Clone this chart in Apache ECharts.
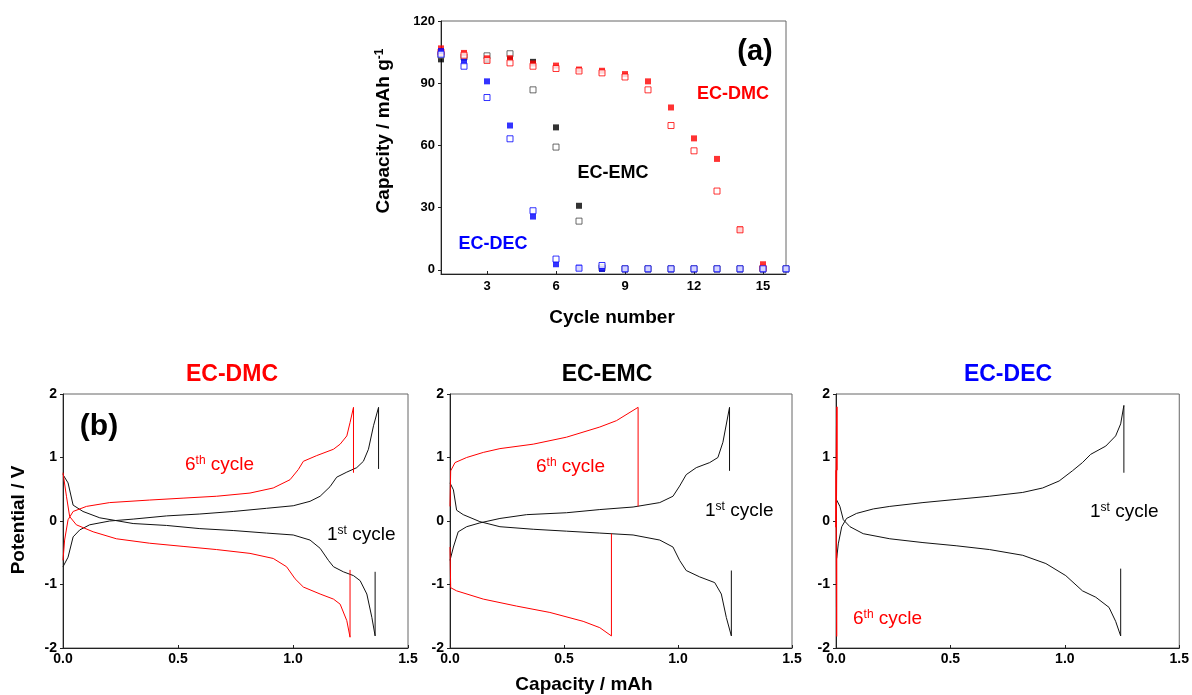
<!DOCTYPE html>
<html>
<head>
<meta charset="utf-8">
<script src="https://cdn.jsdelivr.net/npm/echarts@6/dist/echarts.min.js"></script>
<style>
    html, body { margin: 0; padding: 0; background: #fff; }
    #main { width: 1192px; height: 695px; }
</style>
</head>
<body>
<div id="main"></div>
<script>
    // ---- (a) capacity vs cycle number ----
    var cycles = [1, 2, 3, 4, 5, 6, 7, 8, 9, 10, 11, 12, 13, 14, 15, 16];
    var cycleTicks = [3, 6, 9, 12, 15];
    var capTicks = [0, 30, 60, 90, 120];

    var dmcFilled = [106.8, 104.6, 102, 102, 99.5, 98.5, 96.6, 96, 94.4, 90.9, 78.3, 63.4, 53.5, 19.5, 2.7, null];
    var dmcOpen = [105, 103.5, 101, 99.8, 98.2, 97.1, 95.9, 95, 93, 86.8, 69.6, 57.4, 38, 19.3, 0.8, null];
    var emcFilled = [101.5, 102.5, 101.2, 102.2, 100.3, 68.7, 30.9, 0.5, 0.3, 0.3, 0.3, 0.3, 0.3, 0.3, 0.3, 0.3];
    var emcOpen = [103.5, 102.7, 103.2, 104.2, 86.8, 59.2, 23.5, 1, 0.5, 0.5, 0.5, 0.5, 0.5, 0.5, 0.5, 0.5];
    var decFilled = [105.5, 100.3, 90.9, 69.6, 25.7, 2.7, 1, 0.5, 0.3, 0.3, 0.3, 0.3, 0.3, 0.3, 0.3, 0.3];
    var decOpen = [104, 98.2, 83.1, 63.2, 28.5, 5.2, 0.8, 2.1, 0.5, 0.5, 0.5, 0.5, 0.5, 0.5, 0.5, 0.5];

    // ---- (b) voltage profiles [capacity mAh, potential V] ----
    var capLabels = [0, 0.5, 1.0, 1.5];
    var potLabels = [-2, -1, 0, 1, 2];

    // EC-DMC
    var dmcUp1 = [[0,-0.72],[0.022,-0.57],[0.044,-0.25],[0.073,-0.14],[0.116,-0.06],[0.203,0],[0.305,0.03],[0.45,0.08],[0.595,0.11],[0.74,0.15],[0.885,0.2],[1.001,0.24],[1.074,0.31],[1.118,0.39],[1.161,0.54],[1.19,0.69],[1.234,0.77],[1.277,0.84],[1.306,0.94],[1.328,1.13],[1.35,1.5],[1.372,1.79],[1.372,0.82]];
    var dmcDown1 = [[0,0.73],[0.022,0.6],[0.044,0.25],[0.087,0.15],[0.16,0.05],[0.305,-0.04],[0.45,-0.07],[0.595,-0.12],[0.74,-0.15],[0.885,-0.19],[1.001,-0.22],[1.074,-0.3],[1.118,-0.43],[1.154,-0.62],[1.176,-0.72],[1.219,-0.8],[1.263,-0.86],[1.292,-0.94],[1.321,-1.15],[1.343,-1.52],[1.357,-1.81],[1.357,-0.8]];
    var dmcUp6 = [[0,-0.62],[0.007,-0.3],[0.022,0.02],[0.044,0.15],[0.102,0.23],[0.203,0.29],[0.377,0.33],[0.522,0.36],[0.668,0.39],[0.813,0.44],[0.914,0.52],[0.987,0.65],[1.023,0.81],[1.045,0.94],[1.103,1.03],[1.176,1.13],[1.205,1.21],[1.234,1.34],[1.248,1.55],[1.263,1.79],[1.263,0.76]];
    var dmcDown6 = [[0,0.76],[0.015,0.39],[0.029,0.07],[0.058,-0.06],[0.131,-0.17],[0.232,-0.28],[0.377,-0.35],[0.522,-0.4],[0.668,-0.45],[0.813,-0.51],[0.914,-0.59],[0.972,-0.72],[1.009,-0.91],[1.045,-1.04],[1.118,-1.15],[1.176,-1.23],[1.205,-1.31],[1.234,-1.57],[1.248,-1.83],[1.248,-0.77]];

    // EC-EMC
    var emcUp1 = [[0,-0.62],[0.015,-0.41],[0.036,-0.17],[0.073,-0.09],[0.131,-0.03],[0.219,0.04],[0.336,0.1],[0.511,0.13],[0.657,0.18],[0.803,0.22],[0.92,0.29],[0.978,0.39],[1.007,0.55],[1.036,0.73],[1.08,0.84],[1.139,0.92],[1.175,1.0],[1.197,1.24],[1.226,1.79],[1.226,0.79]];
    var emcDown1 = [[0,0.6],[0.015,0.49],[0.029,0.17],[0.058,0.1],[0.131,-0.01],[0.219,-0.09],[0.365,-0.13],[0.511,-0.16],[0.657,-0.19],[0.803,-0.22],[0.92,-0.3],[0.978,-0.41],[1.007,-0.62],[1.036,-0.78],[1.095,-0.88],[1.161,-0.97],[1.19,-1.15],[1.212,-1.52],[1.234,-1.81],[1.234,-0.78]];
    var emcUp6 = [[0,0.23],[0.003,0.79],[0.022,0.92],[0.073,1.0],[0.146,1.08],[0.219,1.14],[0.365,1.21],[0.511,1.32],[0.657,1.48],[0.73,1.58],[0.825,1.79],[0.825,0.23]];
    var emcDown6 = [[0,-0.41],[0.003,-1.05],[0.029,-1.1],[0.146,-1.23],[0.292,-1.34],[0.438,-1.44],[0.584,-1.58],[0.657,-1.68],[0.708,-1.81],[0.708,-0.2]];

    // EC-DEC
    var decUp1 = [[0.003,-0.59],[0.01,-0.36],[0.025,-0.09],[0.046,0.04],[0.09,0.12],[0.163,0.19],[0.235,0.23],[0.38,0.29],[0.525,0.34],[0.671,0.39],[0.816,0.45],[0.903,0.52],[0.975,0.63],[1.033,0.79],[1.077,0.92],[1.113,1.05],[1.179,1.18],[1.222,1.34],[1.244,1.53],[1.258,1.82],[1.258,0.76]];
    var decDown1 = [[0.003,0.33],[0.017,0.23],[0.032,0.02],[0.061,-0.09],[0.119,-0.2],[0.235,-0.28],[0.38,-0.34],[0.525,-0.39],[0.671,-0.45],[0.816,-0.54],[0.917,-0.67],[1.004,-0.86],[1.077,-1.1],[1.135,-1.2],[1.193,-1.36],[1.222,-1.58],[1.244,-1.81],[1.244,-0.75]];
    var decUp6 = [[0,-0.1],[0.004,1.8],[0.004,0.8]];
    var decDown6 = [[0,0.8],[0.003,-1.82],[0.003,-0.5]];

    var FONT = '"Liberation Sans", Arial, sans-serif';

    function pairs(vals) {
        var out = [];
        for (var i = 0; i < cycles.length; i++) {
            if (vals[i] != null) out.push([cycles[i], vals[i]]);
        }
        return out;
    }

    function dots(vals, color, open) {
        return {
            type: 'scatter', xAxisIndex: 0, yAxisIndex: 0,
            symbol: 'rect', symbolSize: 6, clip: false,
            itemStyle: open ? {color: '#fff', borderColor: color, borderWidth: 1} : {color: color},
            data: pairs(vals)
        };
    }

    function curve(idx, data, color, w) {
        return {
            type: 'line', xAxisIndex: idx, yAxisIndex: idx,
            data: data, showSymbol: false, symbol: 'none',
            lineStyle: {color: color, width: w || 1},
            z: color === '#ff0000' ? 3 : 2
        };
    }

    function txt(x, y, text, size, color, bold, align, rich, rot) {
        var style = {
            text: text, fill: color, fontSize: size, fontFamily: FONT,
            fontWeight: bold ? 'bold' : 'normal',
            align: align || 'center', verticalAlign: 'middle'
        };
        if (rich) style.rich = rich;
        return {type: 'text', x: x, y: y, rotation: rot || 0, style: style, z: 100};
    }

    function supRich(color, size, bold) {
        return {
            n: {fontSize: size, fontFamily: FONT, fill: color, fontWeight: bold ? 'bold' : 'normal', lineHeight: size + 2},
            s: {fontSize: Math.round(size * 0.62), fontFamily: FONT, fill: color, fontWeight: bold ? 'bold' : 'normal', verticalAlign: 'top'}
        };
    }

    var tickLabel = {fontFamily: FONT, fontWeight: 'bold', fontSize: 13, color: '#000'};
    var tickLabelB = {fontFamily: FONT, fontWeight: 'bold', fontSize: 14, color: '#000'};
    var axisLine = {show: true, onZero: false, lineStyle: {color: '#222', width: 1}};

    function vbX(idx) {
        return {
            type: 'value', gridIndex: idx, min: 0, max: 1.5, interval: 0.5,
            axisLine: axisLine, axisTick: {show: true, inside: true, length: 3, lineStyle: {color: '#222'}},
            axisLabel: Object.assign({margin: 4, formatter: function (v) { return v.toFixed(1); }, showMaxLabel: true}, tickLabelB),
            splitLine: {show: false}
        };
    }
    function vbY(idx) {
        return {
            type: 'value', gridIndex: idx, min: -2, max: 2, interval: 1,
            axisLine: axisLine, axisTick: {show: true, length: 3, lineStyle: {color: '#222'}},
            axisLabel: Object.assign({margin: 6}, tickLabelB),
            splitLine: {show: false}
        };
    }

    var border = {show: true, borderColor: '#666', borderWidth: 1, backgroundColor: 'transparent'};

    var option = {
        animation: false,
        backgroundColor: '#fff',
        grid: [
            Object.assign({left: 441, top: 21, width: 345, height: 253}, border),
            Object.assign({left: 63, top: 394, width: 345, height: 254}, border),
            Object.assign({left: 450, top: 394, width: 342, height: 254}, border),
            Object.assign({left: 836, top: 394, width: 345, height: 254}, border)
        ],
        xAxis: [
            {
                type: 'value', gridIndex: 0, min: 1, max: 16,
                axisLine: axisLine,
                axisTick: {show: true, inside: true, length: 3, customValues: cycleTicks, lineStyle: {color: '#222'}},
                axisLabel: Object.assign({margin: 6, customValues: cycleTicks}, tickLabel),
                splitLine: {show: false}
            },
            vbX(1), vbX(2), vbX(3)
        ],
        yAxis: [
            {
                type: 'value', gridIndex: 0, min: -2, max: 120,
                axisLine: axisLine,
                axisTick: {show: true, length: 3, customValues: capTicks, lineStyle: {color: '#222'}},
                axisLabel: Object.assign({margin: 6, customValues: capTicks}, tickLabel),
                splitLine: {show: false}
            },
            vbY(1), vbY(2), vbY(3)
        ],
        series: [
            dots(emcFilled, '#000000', false),
            dots(emcOpen, '#444444', true),
            dots(dmcFilled, '#ff0000', false),
            dots(dmcOpen, '#ff0000', true),
            dots(decFilled, '#0000ff', false),
            dots(decOpen, '#0000ff', true),

            curve(1, dmcUp1, '#111'), curve(1, dmcDown1, '#111'),
            curve(1, dmcUp6, '#ff0000'), curve(1, dmcDown6, '#ff0000'),
            curve(2, emcUp1, '#111'), curve(2, emcDown1, '#111'),
            curve(2, emcUp6, '#ff0000'), curve(2, emcDown6, '#ff0000'),
            curve(3, decUp1, '#111'), curve(3, decDown1, '#111'),
            curve(3, decUp6, '#ff0000', 1.6), curve(3, decDown6, '#ff0000', 1.2)
        ],
        graphic: [
            // (a) panel texts
            txt(755, 52, '(a)', 29, '#000', true),
            txt(733, 94, 'EC-DMC', 18, '#ff0000', true),
            txt(613, 173, 'EC-EMC', 18, '#000', true),
            txt(493, 244, 'EC-DEC', 18, '#0000ff', true),
            txt(384, 131, '{n|Capacity / mAh g}{s|-1}', 19, '#000', true, 'center', supRich('#000', 19, true), Math.PI / 2),
            txt(612, 318, 'Cycle number', 19, '#000', true),

            // (b) panel texts
            txt(232, 375, 'EC-DMC', 23, '#ff0000', true),
            txt(607, 375, 'EC-EMC', 23, '#000', true),
            txt(1008, 375, 'EC-DEC', 23, '#0000ff', true),
            txt(99, 427, '(b)', 30, '#000', true),
            txt(185, 465, '{n|6}{s|th}{n| cycle}', 19, '#ff0000', false, 'left', supRich('#ff0000', 19)),
            txt(327, 535, '{n|1}{s|st}{n| cycle}', 19, '#000', false, 'left', supRich('#000', 19)),
            txt(536, 467, '{n|6}{s|th}{n| cycle}', 19, '#ff0000', false, 'left', supRich('#ff0000', 19)),
            txt(705, 511, '{n|1}{s|st}{n| cycle}', 19, '#000', false, 'left', supRich('#000', 19)),
            txt(1090, 512, '{n|1}{s|st}{n| cycle}', 19, '#000', false, 'left', supRich('#000', 19)),
            txt(853, 619, '{n|6}{s|th}{n| cycle}', 19, '#ff0000', false, 'left', supRich('#ff0000', 19)),
            txt(19, 520, 'Potential / V', 19, '#000', true, 'center', null, Math.PI / 2),
            txt(584, 685, 'Capacity / mAh', 19, '#000', true)
        ]
    };

    echarts.init(document.getElementById('main')).setOption(option);
</script>
</body>
</html>
